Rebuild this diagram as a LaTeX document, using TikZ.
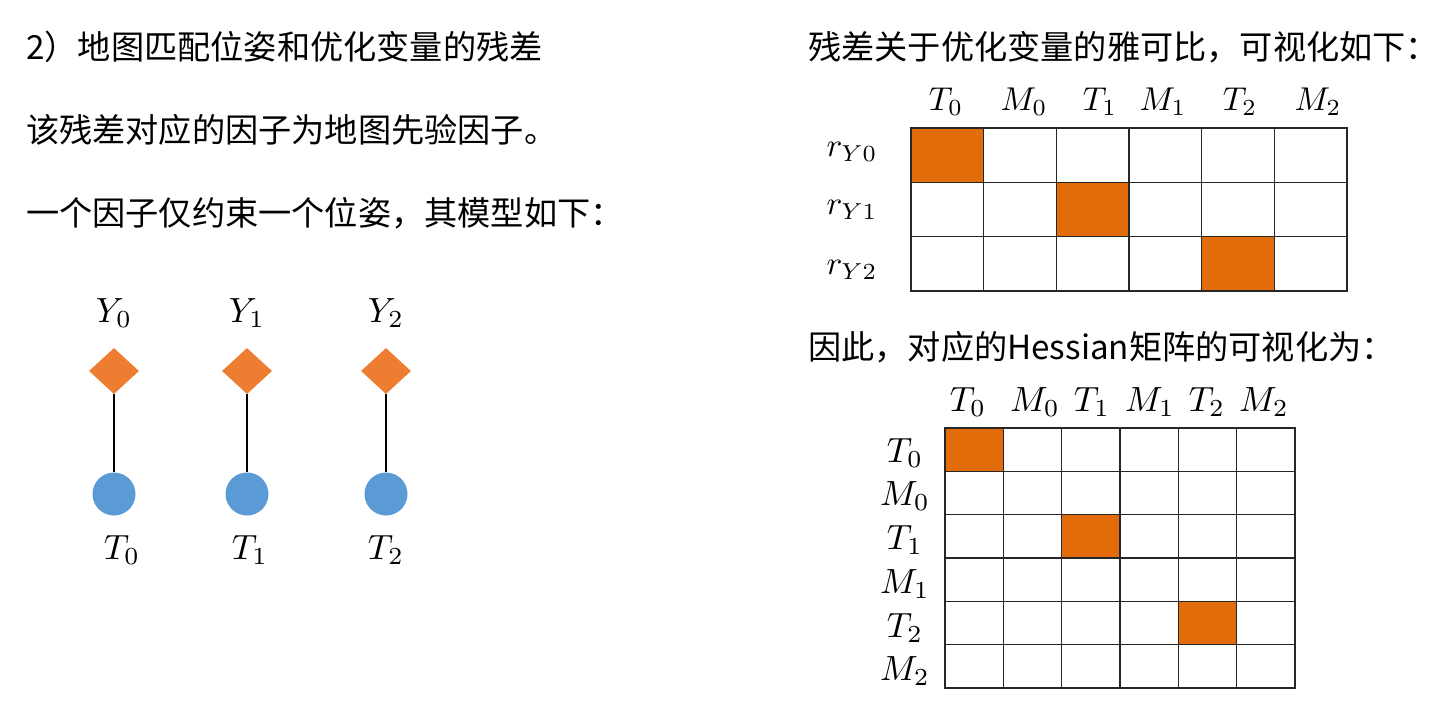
\documentclass[tikz,border=0pt]{standalone}
\usepackage{fontspec}
\newfontfamily\cjk{Noto Sans CJK SC}
\usetikzlibrary{shapes.geometric}
\definecolor{facorange}{HTML}{ED7D31}
\definecolor{varblue}{HTML}{5B9BD5}
\definecolor{cellorange}{HTML}{E36C0A}
\begin{document}
\begin{tikzpicture}[x=1pt,y=-1pt,
 txt/.style={anchor=west,inner sep=0pt,font=\cjk\fontsize{33.2}{38}\selectfont},
 mlab/.style={inner sep=0pt,scale=3.5},
 rlab/.style={inner sep=0pt,scale=3.3},
 factor/.style={diamond,fill=facorange,minimum width=50pt,minimum height=46pt,inner sep=0pt},
 var/.style={circle,fill=varblue,minimum size=43pt,inner sep=0pt},
 edge/.style={line width=1.8pt},
 gridline/.style={line width=1.4pt,draw=black!85,line cap=rect},
 hot/.style={fill=cellorange}]
\useasboundingbox (0,0) rectangle (1438,725);
% left texts
\node[txt] (t1) at (26,47) {2）地图匹配位姿和优化变量的残差};
\node[txt] (t2) at (26,130) {该残差对应的因子为地图先验因子。};
\node[txt] (t3) at (26,213) {一个因子仅约束一个位姿，其模型如下：};
% factor graph
\foreach \k/\x in {0/114,1/247,2/386}{
  \node[factor] (y\k) at (\x,371) {};
  \node[var] (v\k) at (\x,494) {};
  \draw[edge] (y\k) -- (v\k);
  \node[mlab] (ly\k) at (\x,313) {$Y_\k$};
}
\node[mlab] (lt0) at (122,550) {$T_0$};
\node[mlab] (lt1) at (250,550) {$T_1$};
\node[mlab] (lt2) at (386,550) {$T_2$};
% right texts
\node[txt] (t4) at (808,47) {残差关于优化变量的雅可比，可视化如下：};
\node[txt] (t5) at (808,347) {因此，对应的Hessian矩阵的可视化为：};
% Jacobian grid
\foreach \c/\r in {0/0,2/1,4/2}
  \fill[hot] ({911+\c*72.67},{128+\r*54.33}) rectangle ++(72.67,54.33);
\foreach \i in {0,...,6}
  \draw[gridline] ({911+\i*72.67},128) -- ({911+\i*72.67},291);
\foreach \j in {0,...,3}
  \draw[gridline] (911,{128+\j*54.33}) -- (1347,{128+\j*54.33});
\node[rlab] (jh0) at (946,102) {$T_0$};
\node[rlab] (jh1) at (1024,102) {$M_0$};
\node[rlab] (jh2) at (1100,102) {$T_1$};
\node[rlab] (jh3) at (1163,102) {$M_1$};
\node[rlab] (jh4) at (1240,102) {$T_2$};
\node[rlab] (jh5) at (1318,102) {$M_2$};
\node[rlab] (jr0) at (852,152) {$r_{Y0}$};
\node[rlab] (jr1) at (852,210) {$r_{Y1}$};
\node[rlab] (jr2) at (852,270) {$r_{Y2}$};
% Hessian grid
\foreach \c/\r in {0/0,2/2,4/4}
  \fill[hot] ({945+\c*58.33},{428+\r*43.33}) rectangle ++(58.33,43.33);
\foreach \i in {0,...,6}
  \draw[gridline] ({945+\i*58.33},428) -- ({945+\i*58.33},688);
\foreach \j in {0,...,6}
  \draw[gridline] (945,{428+\j*43.33}) -- (1295,{428+\j*43.33});
\node[mlab] (hh0) at (968,402) {$T_0$};
\node[mlab] (hh1) at (1035,402) {$M_0$};
\node[mlab] (hh2) at (1092,402) {$T_1$};
\node[mlab] (hh3) at (1150,402) {$M_1$};
\node[mlab] (hh4) at (1207,402) {$T_2$};
\node[mlab] (hh5) at (1264,402) {$M_2$};
\node[mlab] (hr0) at (905,453) {$T_0$};
\node[mlab] (hr1) at (905,496) {$M_0$};
\node[mlab] (hr2) at (905,540) {$T_1$};
\node[mlab] (hr3) at (905,584) {$M_1$};
\node[mlab] (hr4) at (905,628) {$T_2$};
\node[mlab] (hr5) at (905,671) {$M_2$};
\end{tikzpicture}
\end{document}
